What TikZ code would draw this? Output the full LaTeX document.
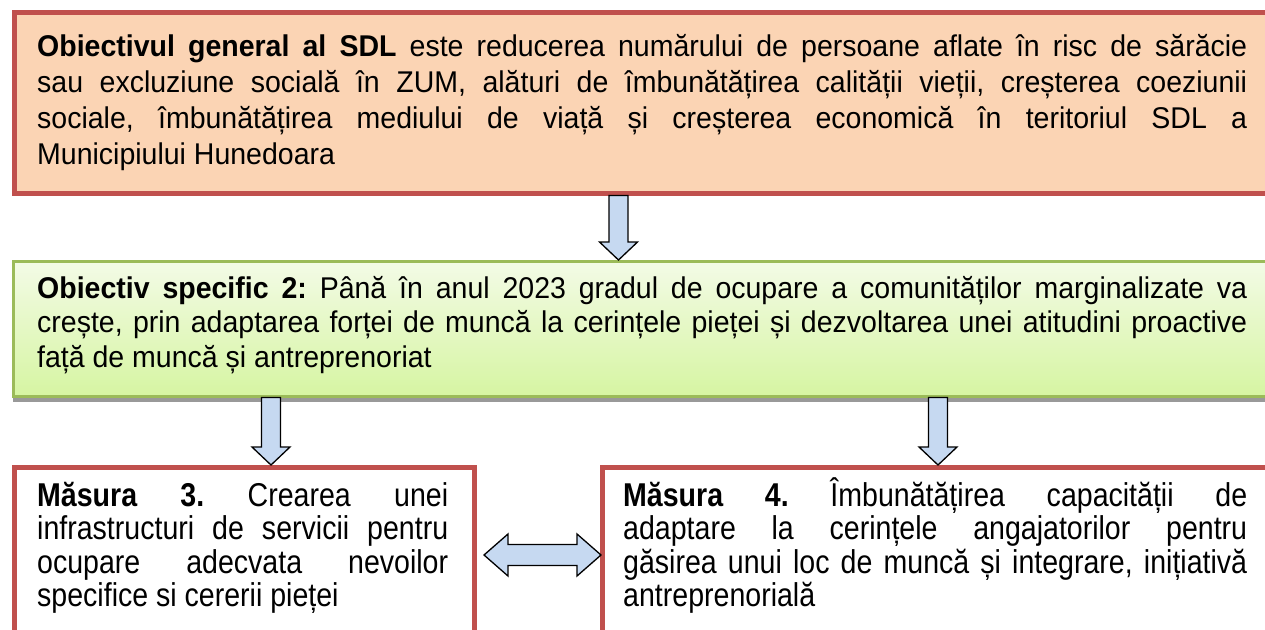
\documentclass[tikz,border=0pt]{standalone}
\usepackage{fontspec}
\setmainfont{Liberation Sans}
\newfontfamily\tallfont{Liberation Sans}[FakeStretch=0.95]
\newfontfamily\narrowfont{Liberation Sans}[FakeStretch=0.865]
\usetikzlibrary{calc,shadows}
\definecolor{boxred}{HTML}{C0504D}
\definecolor{peach}{HTML}{FBD4B4}
\definecolor{gborder}{HTML}{9BBB59}
\definecolor{gtop}{HTML}{F3FBE6}
\definecolor{gbot}{HTML}{D6F5A2}
\definecolor{arrowblue}{HTML}{C6D9F1}
\tikzset{
  frame/.style={draw=boxred, line width=5pt, inner sep=0pt},
  genbox/.style={frame, fill=peach},
  specbox/.style={draw=gborder, line width=2.5pt, top color=gtop, bottom color=gbot, inner sep=0pt,
    drop shadow={shadow xshift=0pt, shadow yshift=-6pt, fill=black!40, opacity=1}},
  masbox/.style={frame, fill=white},
  txt/.style={inner sep=0pt, align=justify, anchor=north west,
    font=\tallfont\fontsize{30}{36}\selectfont\frenchspacing},
  mtxt/.style={inner sep=0pt, align=justify, anchor=north west,
    font=\narrowfont\fontsize{33}{33.5}\selectfont\frenchspacing},
  blockarrow/.style={draw=black, line width=1.3pt, fill=arrowblue, line join=miter},
}
\newcommand{\firstline}{\rule{0pt}{30pt}}
\newcommand{\mfirstline}{\rule{0pt}{32pt}}
\begin{document}
\begin{tikzpicture}[x=1pt,y=-1pt]
\useasboundingbox (0,0) rectangle (1265,629);
% boxes
\node[genbox, minimum width=1260pt, minimum height=181pt, anchor=north west] (gen) at (12,9.5) {};
\node[specbox, minimum width=1260pt, minimum height=135pt, anchor=north west] (spec) at (12,260) {};
\node[masbox, minimum width=460pt, minimum height=200pt, anchor=north west] (m3) at (12,465) {};
\node[masbox, minimum width=672pt, minimum height=200pt, anchor=north west] (m4) at (600,465) {};
% texts
\node[txt, text width=1210pt] (gent) at (37,26.5) {\firstline\textbf{Obiectivul general al SDL} este reducerea numărului de persoane aflate în risc de sărăcie\linebreak sau excluziune socială în ZUM, alături de îmbunătățirea calității vieții, creșterea coeziunii\linebreak sociale, îmbunătățirea mediului de viață și creșterea economică în teritoriul SDL a\linebreak Municipiului Hunedoara};
\node[txt, text width=1210pt, font=\tallfont\fontsize{30}{34.5}\selectfont\frenchspacing] (spect) at (37,268) {\firstline\textbf{Obiectiv specific 2:} Până în anul 2023 gradul de ocupare a comunităților marginalizate va\linebreak crește, prin adaptarea forței de muncă la cerințele pieței și dezvoltarea unei atitudini proactive\linebreak față de muncă și antreprenoriat};
\node[mtxt, text width=411pt] (m3t) at (37,474) {\mfirstline\textbf{Măsura 3.} Crearea unei\linebreak infrastructuri de servicii pentru\linebreak ocupare adecvata nevoilor\linebreak specifice si cererii pieței};
\node[mtxt, text width=624pt] (m4t) at (623,474) {\mfirstline\textbf{Măsura 4.} Îmbunătățirea capacității de\linebreak adaptare la cerințele angajatorilor pentru\linebreak găsirea unui loc de muncă și integrare, inițiativă\linebreak antreprenorială};
% arrow axes
\coordinate (a1) at (618.5,0);
\coordinate (a2) at (271,0);
\coordinate (a3) at (938,0);
\coordinate (mid) at (0,555);
% down arrows: from box to box
\foreach \ax/\src/\dst/\nm in {a1/gen/spec/arr1, a2/spec/m3/arr2, a3/spec/m4/arr3}{
  \coordinate (\nm s) at (\src.south -| \ax);
  \coordinate (\nm t) at (\dst.north -| \ax);
  \draw[blockarrow] ($(\nm s)+(-9.5,0)$) -- ($(\nm t)+(-9.5,-18)$) -- ($(\nm t)+(-19,-18)$)
    -- (\nm t) -- ($(\nm t)+(19,-18)$) -- ($(\nm t)+(9.5,-18)$) -- ($(\nm s)+(9.5,0)$) -- cycle;
}
% double arrow between the two measures
\coordinate (L) at ($(m3.east |- mid)+(7,0)$);
\coordinate (R) at ($(m4.west |- mid)+(1,0)$);
\draw[blockarrow] (L) -- ($(L)+(24,-21)$) -- ($(L)+(24,-10.5)$) -- ($(R)+(-24,-10.5)$)
  -- ($(R)+(-24,-21)$) -- (R) -- ($(R)+(-24,21)$) -- ($(R)+(-24,10.5)$)
  -- ($(L)+(24,10.5)$) -- ($(L)+(24,21)$) -- cycle;
\end{tikzpicture}
\end{document}
